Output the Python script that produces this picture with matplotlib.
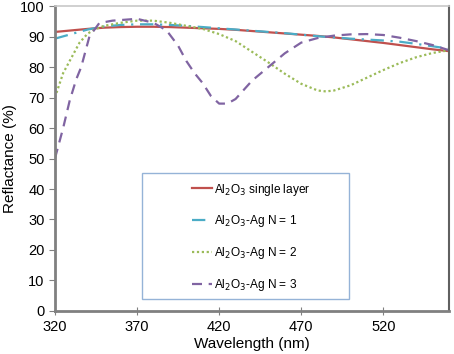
import matplotlib.pyplot as plt
from matplotlib.patches import Rectangle

plt.rcParams['font.family'] = ['Liberation Sans', 'DejaVu Sans']

wl_single = [320, 330, 340, 350, 360, 370, 380, 390, 400, 410, 420, 430, 440,
             450, 460, 470, 480, 490, 500, 510, 520, 530, 540, 550, 560]
r_single = [91.5, 92.0, 92.5, 92.9, 93.1, 93.2, 93.2, 93.1, 92.9, 92.7, 92.5, 92.2, 91.8,
            91.4, 91.0, 90.6, 90.2, 89.7, 89.1, 88.5, 87.9, 87.2, 86.5, 85.8, 85.2]

wl_n1 = [320, 330, 340, 350, 360, 370, 380, 390, 400, 410, 420, 430, 440,
         450, 460, 470, 480, 490, 500, 510, 520, 530, 540, 550, 560]
r_n1 = [89.3, 90.8, 92.3, 93.3, 93.8, 94.0, 94.0, 93.8, 93.5, 93.1, 92.7, 92.3, 91.9,
        91.5, 91.1, 90.6, 90.1, 89.7, 89.3, 89.0, 88.7, 88.3, 87.6, 86.8, 86.0]

wl_n2 = [320, 325, 330, 335, 340, 345, 350, 360, 370, 380, 390, 400, 410, 420, 430,
         440, 450, 460, 470, 480, 485, 490, 500, 510, 520, 530, 540, 550, 560]
r_n2 = [70.0, 78.0, 83.0, 88.0, 91.0, 92.5, 93.5, 94.5, 95.2, 95.2, 94.5, 93.5, 92.5, 90.8, 88.5,
        85.0, 81.5, 77.8, 74.5, 72.3, 72.0, 72.3, 74.0, 76.5, 79.0, 81.3, 83.2, 84.6, 85.5]

wl_n3 = [320, 325, 329, 333, 336, 341, 347, 355, 370, 380, 388, 395, 400, 405, 410, 415,
         420, 425, 430, 440, 450, 460, 470, 480, 490, 500, 510, 520, 530, 540, 550, 560]
r_n3 = [50.0, 60.0, 69.0, 76.0, 80.0, 90.0, 94.4, 95.2, 95.8, 94.5, 92.0, 87.0, 82.0, 78.0, 74.7, 70.5,
        68.0, 68.0, 69.5, 75.5, 80.0, 84.5, 88.0, 89.5, 90.3, 90.7, 90.8, 90.5, 89.6, 88.5, 87.2, 85.5]

labels = ['Al$_2$O$_3$ single layer', 'Al$_2$O$_3$-Ag N = 1',
          'Al$_2$O$_3$-Ag N = 2', 'Al$_2$O$_3$-Ag N = 3']

fig = plt.figure(figsize=(4.54, 3.54), dpi=100)
ax = fig.add_axes([0.121, 0.1215, 0.868, 0.8615])

ax.plot(wl_single, r_single, color='#C0504D', lw=1.6, label=labels[0])
ax.plot(wl_n1, r_n1, color='#4BACC6', lw=1.6, ls=(0, (6, 3, 1, 3)), label=labels[1])
ax.plot(wl_n2, r_n2, color='#9BBB59', lw=1.6, ls=(0, (1, 1.2)), label=labels[2])
ax.plot(wl_n3, r_n3, color='#8064A2', lw=1.6, ls=(0, (4.5, 3)), label=labels[3])

ax.set_xlim(320, 560)
ax.set_ylim(0, 100)
ax.set_xticks([320, 370, 420, 470, 520])
ax.set_yticks(range(0, 101, 10))
ax.tick_params(labelsize=10.5, colors='#808080', labelcolor='black', length=4)
ax.tick_params(axis='x', direction='inout', length=6)
for side in ['left', 'bottom']:
    ax.spines[side].set_color('#808080')
    ax.spines[side].set_linewidth(2)
ax.spines['right'].set_color('#606060')
ax.spines['right'].set_linewidth(1.5)
ax.spines['top'].set_color('#c8c8c8')
ax.spines['top'].set_linewidth(1.2)

ax.set_xlabel('Wavelength (nm)', fontsize=11, labelpad=2)
ax.set_ylabel('Reflactance (%)', fontsize=11, labelpad=2)

# legend box
ax.add_patch(Rectangle((0.2205, 0.0395), 0.525, 0.4135, transform=ax.transAxes,
                       fill=False, edgecolor='#95B3D7', lw=1, zorder=3))
ax.legend(loc='upper left', bbox_to_anchor=(0.335, 0.44), frameon=False,
          fontsize=8.6, handlelength=1.7, handletextpad=0.15, labelspacing=1.32,
          borderaxespad=0, borderpad=0.4)

fig.savefig('out.png', dpi=100)
